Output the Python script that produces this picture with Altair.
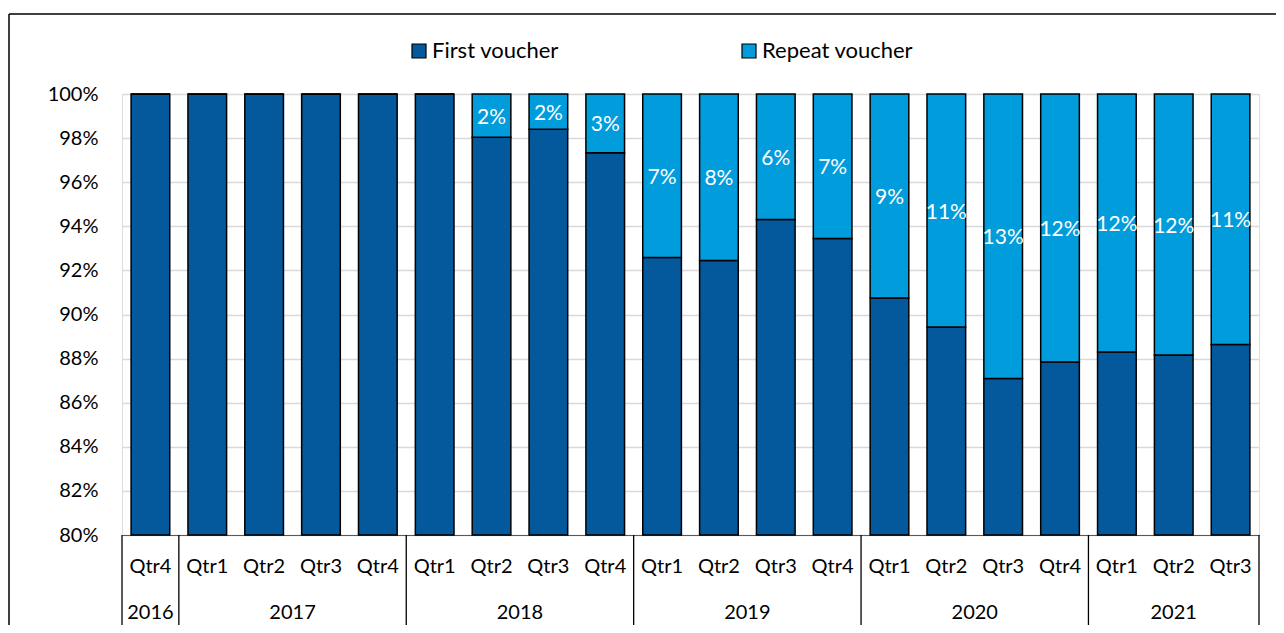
import altair as alt
import pandas as pd

periods = [
    "2016 Qtr4",
    "2017 Qtr1", "2017 Qtr2", "2017 Qtr3", "2017 Qtr4",
    "2018 Qtr1", "2018 Qtr2", "2018 Qtr3", "2018 Qtr4",
    "2019 Qtr1", "2019 Qtr2", "2019 Qtr3", "2019 Qtr4",
    "2020 Qtr1", "2020 Qtr2", "2020 Qtr3", "2020 Qtr4",
    "2021 Qtr1", "2021 Qtr2", "2021 Qtr3",
]
first_voucher = [100, 100, 100, 100, 100, 100, 98.04, 98.40, 97.34,
                 92.59, 92.45, 94.31, 93.45, 90.75, 89.43, 87.10, 87.85,
                 88.30, 88.16, 88.64]
repeat_voucher = [0, 0, 0, 0, 0, 0, 1.96, 1.60, 2.66,
                  7.41, 7.55, 5.69, 6.55, 9.25, 10.57, 12.90, 12.15,
                  11.70, 11.84, 11.36]
years = ["2016", "2017", "2018", "2019", "2020", "2021"]
year_counts = [1, 4, 4, 4, 4, 3]
series_names = ["First voucher", "Repeat voucher"]
series_colors = ["#03599b", "#009cdb"]
y_ticks = [0.80, 0.82, 0.84, 0.86, 0.88, 0.90, 0.92, 0.94, 0.96, 0.98, 1.00]

FONT = "Lato"
W, H = 1137, 441
PAD = {"left": 114, "top": 86, "right": 17, "bottom": 90}

rows = []
for p, f, r in zip(periods, first_voucher, repeat_voucher):
    rows.append({"period": p, "series": series_names[0], "value": f / 100, "order": 0})
    rows.append({"period": p, "series": series_names[1], "value": r / 100, "order": 1})
bars_df = pd.DataFrame(rows)

lab_rows = []
for p, f, r in zip(periods, first_voucher, repeat_voucher):
    if r >= 0.5:
        lab_rows.append({"period": p, "mid": (f + 100) / 200, "label": f"{round(r)}%"})
labels_df = pd.DataFrame(lab_rows)

bounds = [0]
for c in year_counts:
    bounds.append(bounds[-1] + c)
sep_df = pd.DataFrame({"b": bounds})
year_df = pd.DataFrame({
    "year": years,
    "mid": [(bounds[i] + bounds[i + 1]) / 2 for i in range(len(years))],
})

band = alt.Scale(domain=periods, paddingInner=0.32, paddingOuter=0.16)
yscale = alt.Scale(domain=[0.8, 1.0], clamp=True, nice=False, zero=False)
qscale = alt.Scale(domain=[0, len(periods)], nice=False, zero=False)

bars = alt.Chart(bars_df).mark_bar(stroke="black", strokeWidth=1.5).encode(
    x=alt.X("period:N", sort=periods, scale=band,
            axis=alt.Axis(title=None, labelExpr="split(datum.label, ' ')[1]",
                          ticks=False, labelAngle=0, labelFont=FONT,
                          labelFontSize=20, labelColor="black",
                          labelPadding=31, labelBaseline="middle",
                          domainColor="#595959", domainWidth=1, grid=False)),
    y=alt.Y("value:Q", stack="zero", scale=yscale,
            axis=alt.Axis(title=None, format=".0%", values=y_ticks,
                          domain=False, ticks=False, tickSize=0,
                          labelPadding=24, labelFont=FONT, labelFontSize=20,
                          labelColor="black", gridColor="#d9d9d9",
                          gridWidth=1.3)),
    color=alt.Color("series:N",
                    scale=alt.Scale(domain=series_names, range=series_colors),
                    legend=alt.Legend(orient="none", legendX=286, legendY=-54,
                                      direction="horizontal", title=None,
                                      symbolType="square", symbolSize=196,
                                      symbolStrokeColor="black",
                                      symbolStrokeWidth=1.2,
                                      labelFont=FONT, labelFontSize=22,
                                      labelColor="black", labelOffset=2,
                                      columnPadding=179, padding=0)),
    order=alt.Order("order:Q"),
)

labels = alt.Chart(labels_df).mark_text(
    color="white", font=FONT, fontSize=21, baseline="middle", dy=2
).encode(
    x=alt.X("period:N", sort=periods, scale=band),
    y=alt.Y("mid:Q", scale=yscale),
    text="label:N",
)

seps = alt.Chart(sep_df).mark_rule(color="black", strokeWidth=1.3).encode(
    x=alt.X("b:Q", scale=qscale, axis=None),
    y=alt.value(H),
    y2=alt.value(H + PAD["bottom"]),
)

year_text = alt.Chart(year_df).mark_text(
    font=FONT, fontSize=20, color="black", baseline="middle"
).encode(
    x=alt.X("mid:Q", scale=qscale, axis=None),
    y=alt.value(H + 78),
    text="year:N",
)

one = pd.DataFrame({"a": [0]})
frame_top = alt.Chart(one).mark_rule(color="black", strokeWidth=1.5).encode(
    x=alt.value(-113), x2=alt.value(W + PAD["right"]), y=alt.value(-80)
)
frame_left = alt.Chart(one).mark_rule(color="black", strokeWidth=1.5).encode(
    x=alt.value(-113), y=alt.value(-80), y2=alt.value(H + PAD["bottom"])
)

chart = alt.layer(
    alt.layer(bars, labels),
    alt.layer(seps, year_text),
    frame_top, frame_left,
).resolve_scale(x="independent").properties(
    width=W, height=H,
    autosize=alt.AutoSizeParams(type="none"),
    padding=PAD,
).configure_view(stroke=None).configure(background="white")

chart.save("out.html", embed_options={"renderer": "svg", "actions": False})
